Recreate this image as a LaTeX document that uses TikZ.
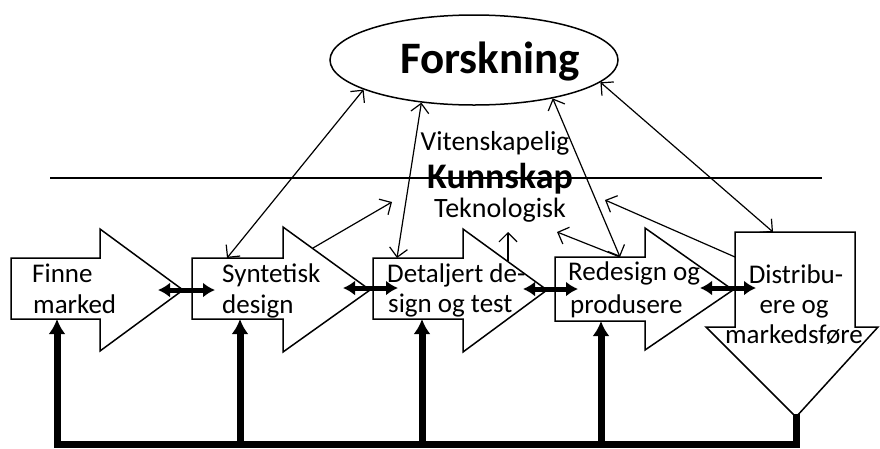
\documentclass[tikz,border=0pt]{standalone}
\usepackage{fontspec}
\setmainfont{Carlito}
\usetikzlibrary{arrows.meta,shapes.geometric}
\begin{document}
\begin{tikzpicture}[x=1pt,y=-1pt,
  shp/.style={draw, line width=1.5pt, line join=miter},
  txt/.style={font=\fontsize{27}{31}\selectfont, inner sep=0pt, anchor=base west},
  txtc/.style={font=\fontsize{27}{31}\selectfont, inner sep=0pt, anchor=base},
  link/.style={line width=1.2pt, {Straight Barb[length=9pt,width=18pt]}-{Straight Barb[length=9pt,width=18pt]}},
  one/.style={line width=1.2pt, -{Straight Barb[length=9pt,width=18pt]}},
  dbl/.style={line width=5pt, {Latex[length=12pt,width=15pt]}-{Latex[length=12pt,width=15pt]}},
  fb/.style={line width=7pt, -{Latex[length=15pt,width=17pt]}},
  fbl/.style={line width=7pt}]
\useasboundingbox (0,0) rectangle (880,448);

% block arrows
\draw[shp] (11,258) -- (100,258) -- (100,229) -- (183,290) -- (100,351) -- (100,319) -- (11,319) -- cycle;
\draw[shp] (192,258) -- (283,258) -- (283,227) -- (370,290) -- (283,352) -- (283,319) -- (192,319) -- cycle;
\draw[shp] (373,258) -- (463,258) -- (463,229) -- (547,290) -- (463,352) -- (463,319) -- (373,319) -- cycle;
\draw[shp] (555,257) -- (645,257) -- (645,228) -- (733,290) -- (645,350) -- (645,321) -- (555,321) -- cycle;
\draw[shp] (735,232) -- (855,232) -- (855,327) -- (878,327) -- (796,417) -- (706,327) -- (735,327) -- cycle;

% research ellipse
\node[ellipse, draw, line width=1.5pt, minimum width=288pt, minimum height=90pt, inner sep=0pt] (F) at (474,60) {};

% horizontal divider
\coordinate (hl) at (50,178);
\coordinate (hr) at (822,178);
\draw[line width=1.5pt] (hl) -- (hr);

% connection points
\coordinate (s2) at (227,258);
\coordinate (s3) at (397,258);
\coordinate (s4) at (620,257);
\coordinate (s5) at (773,232);
\coordinate (h2) at (313,248);
\coordinate (k2) at (392,202);
\coordinate (h3) at (508,261);
\coordinate (k3) at (508,232);
\coordinate (b5) at (735,257);
\coordinate (k5) at (605,200);
\coordinate (k4) at (557,232);

\draw[link] (F.195) -- (s2);
\draw[link] (F.219) -- (s3);
\draw[link] (F.334) -- (s4);
\draw[link] (F.350) -- (s5);
\draw[one] (h2) -- (k2);
\draw[one] (h3) -- (k3);
\draw[one] (b5) -- (k5);
\draw[one] (s4) -- (k4);

% thick double arrows between steps
\coordinate (d1a) at (158,290); \coordinate (d1b) at (215,290);
\coordinate (d2a) at (343,288); \coordinate (d2b) at (398,288);
\coordinate (d3a) at (523,289); \coordinate (d3b) at (578,289);
\coordinate (d4a) at (700,288); \coordinate (d4b) at (756,288);
\draw[dbl] (d1a) -- (d1b);
\draw[dbl] (d2a) -- (d2b);
\draw[dbl] (d3a) -- (d3b);
\draw[dbl] (d4a) -- (d4b);

% feedback loop
\coordinate (f1) at (57,444.5);
\coordinate (f2) at (240,444.5);
\coordinate (f3) at (422,444.5);
\coordinate (f4) at (601,444.5);
\coordinate (f5) at (796,444.5);
\coordinate (tip5) at (796,417);
\coordinate (u1) at (57,319);
\coordinate (u2) at (240,319);
\coordinate (u3) at (422,319);
\coordinate (u4) at (601,321);
\draw[fbl, line cap=rect] (f1) -- (f5) -- (tip5);
\draw[fb] (f1) -- (u1);
\draw[fb] (f2) -- (u2);
\draw[fb] (f3) -- (u3);
\draw[fb] (f4) -- (u4);

% texts
\node[font=\fontsize{45}{50}\selectfont\bfseries, inner sep=0pt, anchor=base] (tf) at (490,73) {Forskning};
\node[font=\fontsize{27.5}{31}\selectfont, inner sep=0pt, anchor=base] (tv) at (495,150) {Vitenskapelig};
\node[font=\fontsize{36}{40}\selectfont\bfseries, inner sep=0pt, anchor=base] (tk) at (500,188) {Kunnskap};
\node[font=\fontsize{28}{31}\selectfont, inner sep=0pt, anchor=base] (tt) at (500,217) {Teknologisk};

\node[txt] (t1a) at (32,282) {Finne};
\node[txt] (t1b) at (33,313) {marked};
\node[txt] (t2a) at (222,282) {Syntetisk};
\node[txt] (t2b) at (222,313) {design};
\node[txt] (t3a) at (387,282) {Detaljert de-};
\node[txt] (t3b) at (388,312) {sign og test};
\node[txt] (t4a) at (568,280) {Redesign og};
\node[txt] (t4b) at (570,313) {produsere};
\node[txtc] (t5a) at (796,283) {Distribu-};
\node[txtc] (t5b) at (794,313) {ere og};
\node[txtc] (t5c) at (794,343) {markedsføre};
\end{tikzpicture}
\end{document}
